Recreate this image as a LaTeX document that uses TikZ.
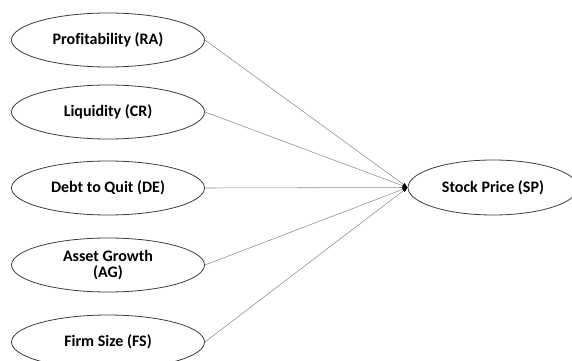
\documentclass[tikz,border=0pt]{standalone}
\usepackage{fontspec}
\setmainfont{Carlito}[Ligatures={NoCommon}]
\usetikzlibrary{shapes.geometric,arrows.meta}
\definecolor{edgegray}{RGB}{60,60,60}
\definecolor{linegray}{RGB}{140,140,140}
\begin{document}
\begin{tikzpicture}[x=1pt,y=1pt,
  var/.style={ellipse,draw=edgegray,line width=0.8pt,minimum width=193pt,minimum height=54pt,inner sep=0pt,
    font=\fontsize{16}{16}\selectfont\bfseries,align=center},
  conn/.style={draw=linegray,line width=0.55pt,-{Latex[length=5pt,width=4pt,color=black]}}]
\useasboundingbox (0,0) rectangle (572,360);
\node[var] (RA) at (108,320) {Profitability (RA)};
\node[var] (CR) at (108,248) {Liquidity (CR)};
\node[var] (DE) at (108,172) {Debt to Quit (DE)};
\node[var] (AG) at (108,95) {Asset Growth\\(AG)};
\node[var] (FS) at (108,18) {Firm Size (FS)};
\node[var,minimum width=170pt,minimum height=55pt] (SP) at (493,172.5) {Stock Price (SP)};
\foreach \n in {RA,CR,DE,AG,FS}
  \draw[conn] (\n.east) -- (SP.west);
\end{tikzpicture}
\end{document}
